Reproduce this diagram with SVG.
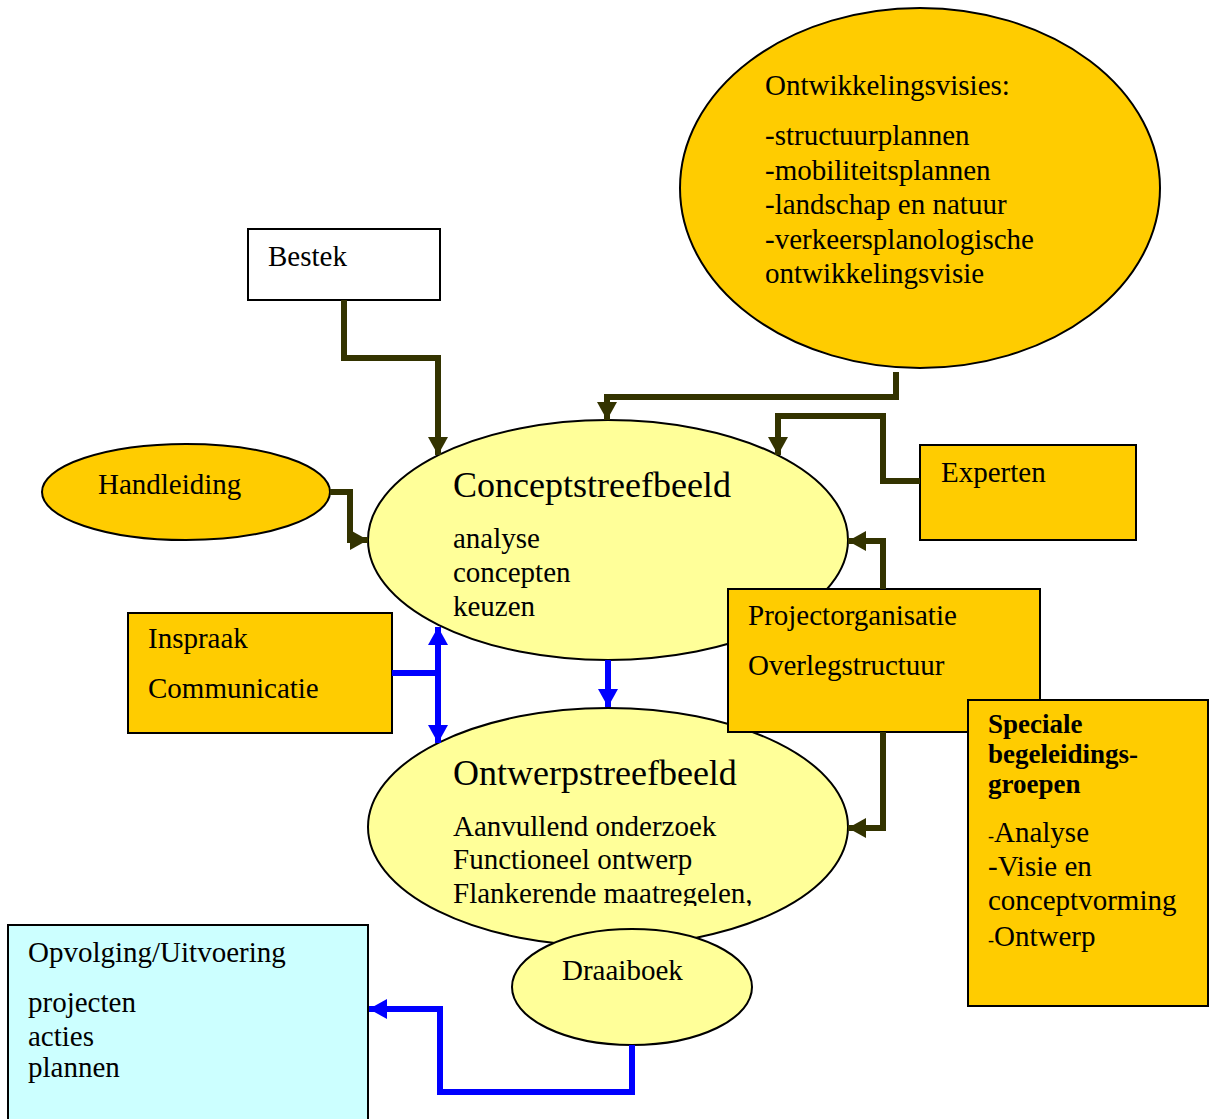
<svg xmlns="http://www.w3.org/2000/svg" width="1215" height="1119" viewBox="0 0 1215 1119">
<style>
text{font-family:"Liberation Serif","Times New Roman",serif;fill:#000;font-size:29px}
.gold{fill:#FFCC00;stroke:#000;stroke-width:2}
.pale{fill:#FFFF99;stroke:#000;stroke-width:2}
.white{fill:#FFFFFF;stroke:#000;stroke-width:2}
.cyan{fill:#CCFFFF;stroke:#000;stroke-width:2}
.olive{fill:none;stroke:#333300;stroke-width:6;stroke-linejoin:miter}
.blue{fill:none;stroke:#0000FF;stroke-width:6;stroke-linejoin:miter}
.title{font-size:36px}
.bold{font-weight:bold;font-size:27px}
</style>
<defs>
<marker id="ao" viewBox="0 0 18 20" refX="18" refY="10" markerWidth="18" markerHeight="20" markerUnits="userSpaceOnUse" orient="auto-start-reverse"><path d="M0,0 L18,10 L0,20 z" fill="#333300"/></marker>
<marker id="ab" viewBox="0 0 18 20" refX="18" refY="10" markerWidth="18" markerHeight="20" markerUnits="userSpaceOnUse" orient="auto-start-reverse"><path d="M0,0 L18,10 L0,20 z" fill="#0000FF"/></marker>
<clipPath id="clipOntwerp"><rect x="368" y="700" width="480" height="206"/></clipPath>
</defs>

<g id="node-ontwikkelingsvisies">
<ellipse class="gold" cx="920" cy="188" rx="240" ry="180"/>
<text x="765" y="95">Ontwikkelingsvisies:</text>
<text x="765" y="145">-structuurplannen</text>
<text x="765" y="180">-mobiliteitsplannen</text>
<text x="765" y="214">-landschap en natuur</text>
<text x="765" y="249">-verkeersplanologische</text>
<text x="765" y="283">ontwikkelingsvisie</text>
</g>

<g id="node-bestek">
<rect class="white" x="248" y="229" width="192" height="71"/>
<text x="268" y="266">Bestek</text>
</g>

<g id="node-handleiding">
<ellipse class="gold" cx="186" cy="492" rx="144" ry="48"/>
<text x="98" y="494">Handleiding</text>
</g>

<g id="node-experten">
<rect class="gold" x="920" y="445" width="216" height="95"/>
<text x="941" y="482">Experten</text>
</g>

<g id="node-conceptstreefbeeld">
<ellipse class="pale" cx="608" cy="540" rx="240" ry="120"/>
<text class="title" x="453" y="497">Conceptstreefbeeld</text>
<text x="453" y="548">analyse</text>
<text x="453" y="582">concepten</text>
<text x="453" y="616">keuzen</text>
</g>

<g id="node-inspraak">
<rect class="gold" x="128" y="613" width="264" height="120"/>
<text x="148" y="648">Inspraak</text>
<text x="148" y="698">Communicatie</text>
</g>

<g id="node-ontwerpstreefbeeld">
<ellipse class="pale" cx="608" cy="827" rx="240" ry="119"/>
<g clip-path="url(#clipOntwerp)">
<text class="title" x="453" y="785">Ontwerpstreefbeeld</text>
<text x="453" y="836">Aanvullend onderzoek</text>
<text x="453" y="869">Functioneel ontwerp</text>
<text x="453" y="903">Flankerende maatregelen,</text>
</g>
</g>

<g id="node-projectorganisatie">
<rect class="gold" x="728" y="589" width="312" height="143"/>
<text x="748" y="625">Projectorganisatie</text>
<text x="748" y="675">Overlegstructuur</text>
</g>

<g id="node-speciale">
<rect class="gold" x="968" y="700" width="240" height="306"/>
<text class="bold" x="988" y="733">Speciale</text>
<text class="bold" x="988" y="763">begeleidings-</text>
<text class="bold" x="988" y="793">groepen</text>
<text x="988" y="842"><tspan font-size="18">-</tspan>Analyse</text>
<text x="988" y="876">-Visie en</text>
<text x="988" y="910">conceptvorming</text>
<text x="988" y="946"><tspan font-size="18">-</tspan>Ontwerp</text>
</g>

<g id="node-opvolging">
<rect class="cyan" x="8" y="925" width="360" height="200"/>
<text x="28" y="962">Opvolging/Uitvoering</text>
<text x="28" y="1012">projecten</text>
<text x="28" y="1046">acties</text>
<text x="28" y="1077" font-size="22">plannen</text>
</g>

<g id="node-draaiboek">
<ellipse class="pale" cx="632" cy="987" rx="120" ry="58"/>
<text x="562" y="980">Draaiboek</text>
</g>

<g id="connectors">
<path class="olive" d="M344,300 V358 H438 V455" marker-end="url(#ao)"/>
<path class="olive" d="M896,372 V397 H607 V420" marker-end="url(#ao)"/>
<path class="olive" d="M920,481 H883 V416 H778 V455" marker-end="url(#ao)"/>
<path class="olive" d="M883,589 V541 H848" marker-end="url(#ao)"/>
<path class="olive" d="M883,732 V828 H848" marker-end="url(#ao)"/>
<path class="olive" d="M330,492 H350 V540 H368" marker-end="url(#ao)"/>
<path class="blue" d="M438,627 V743" marker-start="url(#ab)" marker-end="url(#ab)"/>
<path class="blue" d="M392,673 H438"/>
<path class="blue" d="M608,660 V707" marker-end="url(#ab)"/>
<path class="blue" d="M632,1045 V1092 H440 V1009 H369" marker-end="url(#ab)"/>
</g>
</svg>
